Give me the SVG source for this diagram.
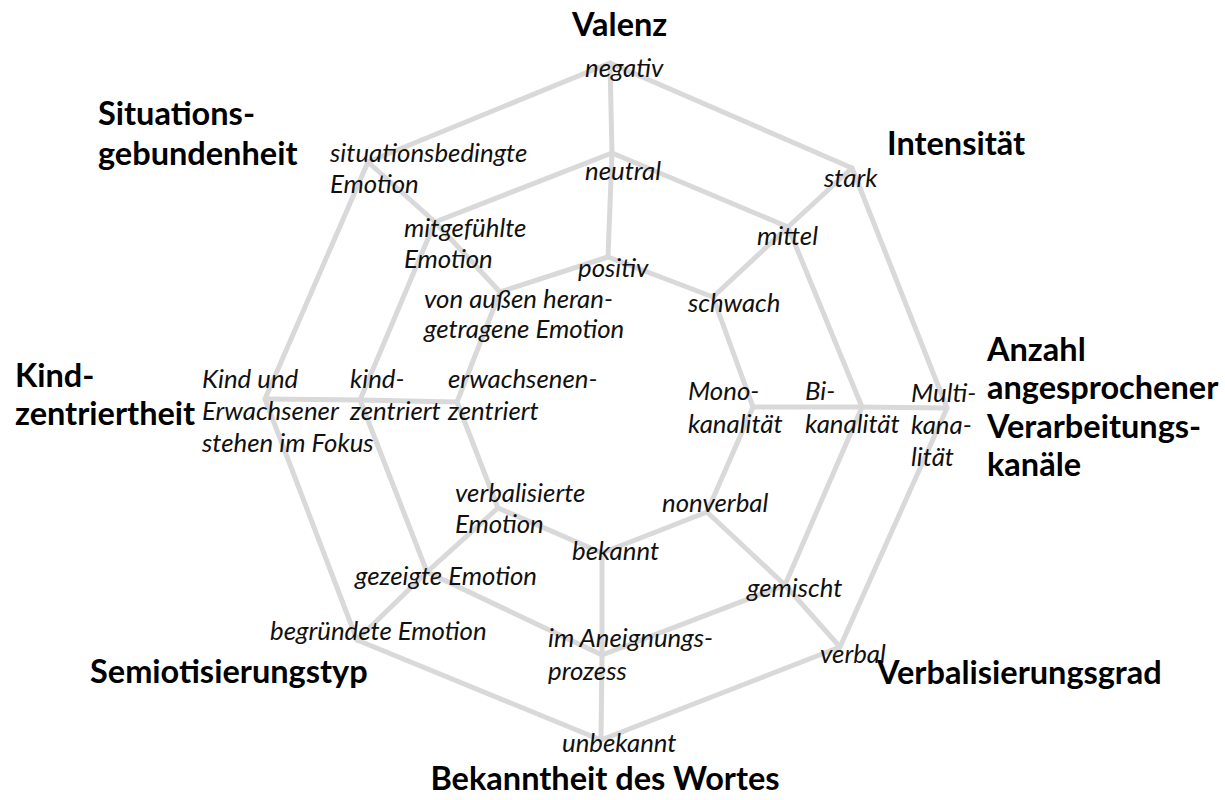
<svg xmlns="http://www.w3.org/2000/svg" width="1225" height="800" viewBox="0 0 1225 800">
<style>
.grid{fill:none;stroke:#d9d9d9;stroke-width:5;stroke-linejoin:round;stroke-linecap:round}
.lbl{font-family:Lato,"Liberation Sans",sans-serif;font-style:italic;font-size:25.8px;fill:#111}
.ttl{font-family:Lato,"Liberation Sans",sans-serif;font-weight:bold;font-size:32.5px;fill:#000}
</style>
<rect width="1225" height="800" fill="#fff"/>
<g id="connectors">
<polygon class="grid" points="610,63 852,168 947,408 840,647 601,740 357,640 265,399 368,162"/>
<polygon class="grid" points="612,153 788,227 862,407 785,585 602,655 427,572 360,400 435,222"/>
<polygon class="grid" points="608,257 713,297 753,407 707,512 602,553 498,508 457,402 500,292"/>
<polyline class="grid" points="610,63 612,153 608,257"/>
<polyline class="grid" points="852,168 788,227 713,297"/>
<polyline class="grid" points="947,408 862,407 753,407"/>
<polyline class="grid" points="840,647 785,585 707,512"/>
<polyline class="grid" points="601,740 602,655 602,553"/>
<polyline class="grid" points="357,640 427,572 498,508"/>
<polyline class="grid" points="265,399 360,400 457,402"/>
<polyline class="grid" points="368,162 435,222 500,292"/>
</g>
<g id="valenz">
<text class="ttl" x="572" y="36">Valenz</text>
<text class="lbl" x="585" y="77">negativ</text>
<text class="lbl" x="585" y="180">neutral</text>
<text class="lbl" x="578" y="277">positiv</text>
</g>
<g id="intensitaet">
<text class="ttl" x="887" y="155">Intensität</text>
<text class="lbl" x="824" y="187">stark</text>
<text class="lbl" x="757" y="245">mittel</text>
<text class="lbl" x="688" y="312">schwach</text>
</g>
<g id="anzahl">
<text class="ttl" x="987" y="361">Anzahl</text>
<text class="ttl" x="987" y="399">angesprochener</text>
<text class="ttl" x="987" y="438">Verarbeitungs-</text>
<text class="ttl" x="987" y="476">kanäle</text>
<text class="lbl" x="688" y="400">Mono-</text>
<text class="lbl" x="688" y="433">kanalität</text>
<text class="lbl" x="805" y="400">Bi-</text>
<text class="lbl" x="805" y="433">kanalität</text>
<text class="lbl" x="911" y="402">Multi-</text>
<text class="lbl" x="911" y="434">kana-</text>
<text class="lbl" x="911" y="466">lität</text>
</g>
<g id="verbalisierungsgrad">
<text class="ttl" x="877" y="684">Verbalisierungsgrad</text>
<text class="lbl" x="662" y="512">nonverbal</text>
<text class="lbl" x="747" y="597">gemischt</text>
<text class="lbl" x="820" y="663">verbal</text>
</g>
<g id="bekanntheit">
<text class="ttl" x="605" y="790" text-anchor="middle">Bekanntheit des Wortes</text>
<text class="lbl" x="572" y="560">bekannt</text>
<text class="lbl" x="548" y="647">im Aneignungs-</text>
<text class="lbl" x="548" y="680">prozess</text>
<text class="lbl" x="562" y="752">unbekannt</text>
</g>
<g id="semiotisierungstyp">
<text class="ttl" x="90" y="683">Semiotisierungstyp</text>
<text class="lbl" x="455" y="502">verbalisierte</text>
<text class="lbl" x="455" y="533">Emotion</text>
<text class="lbl" x="355" y="585">gezeigte Emotion</text>
<text class="lbl" x="270" y="640">begründete Emotion</text>
</g>
<g id="kindzentriertheit">
<text class="ttl" x="15" y="387">Kind-</text>
<text class="ttl" x="15" y="425">zentriertheit</text>
<text class="lbl" x="202" y="388">Kind und</text>
<text class="lbl" x="202" y="420">Erwachsener</text>
<text class="lbl" x="202" y="452">stehen im Fokus</text>
<text class="lbl" x="350" y="388">kind-</text>
<text class="lbl" x="350" y="420">zentriert</text>
<text class="lbl" x="448" y="388">erwachsenen-</text>
<text class="lbl" x="448" y="420">zentriert</text>
</g>
<g id="situationsgebundenheit">
<text class="ttl" x="98" y="125">Situations-</text>
<text class="ttl" x="98" y="165">gebundenheit</text>
<text class="lbl" x="330" y="162">situationsbedingte</text>
<text class="lbl" x="330" y="193">Emotion</text>
<text class="lbl" x="404" y="237">mitgefühlte</text>
<text class="lbl" x="404" y="268">Emotion</text>
<text class="lbl" x="424" y="308">von außen heran-</text>
<text class="lbl" x="424" y="338">getragene Emotion</text>
</g>
</svg>
